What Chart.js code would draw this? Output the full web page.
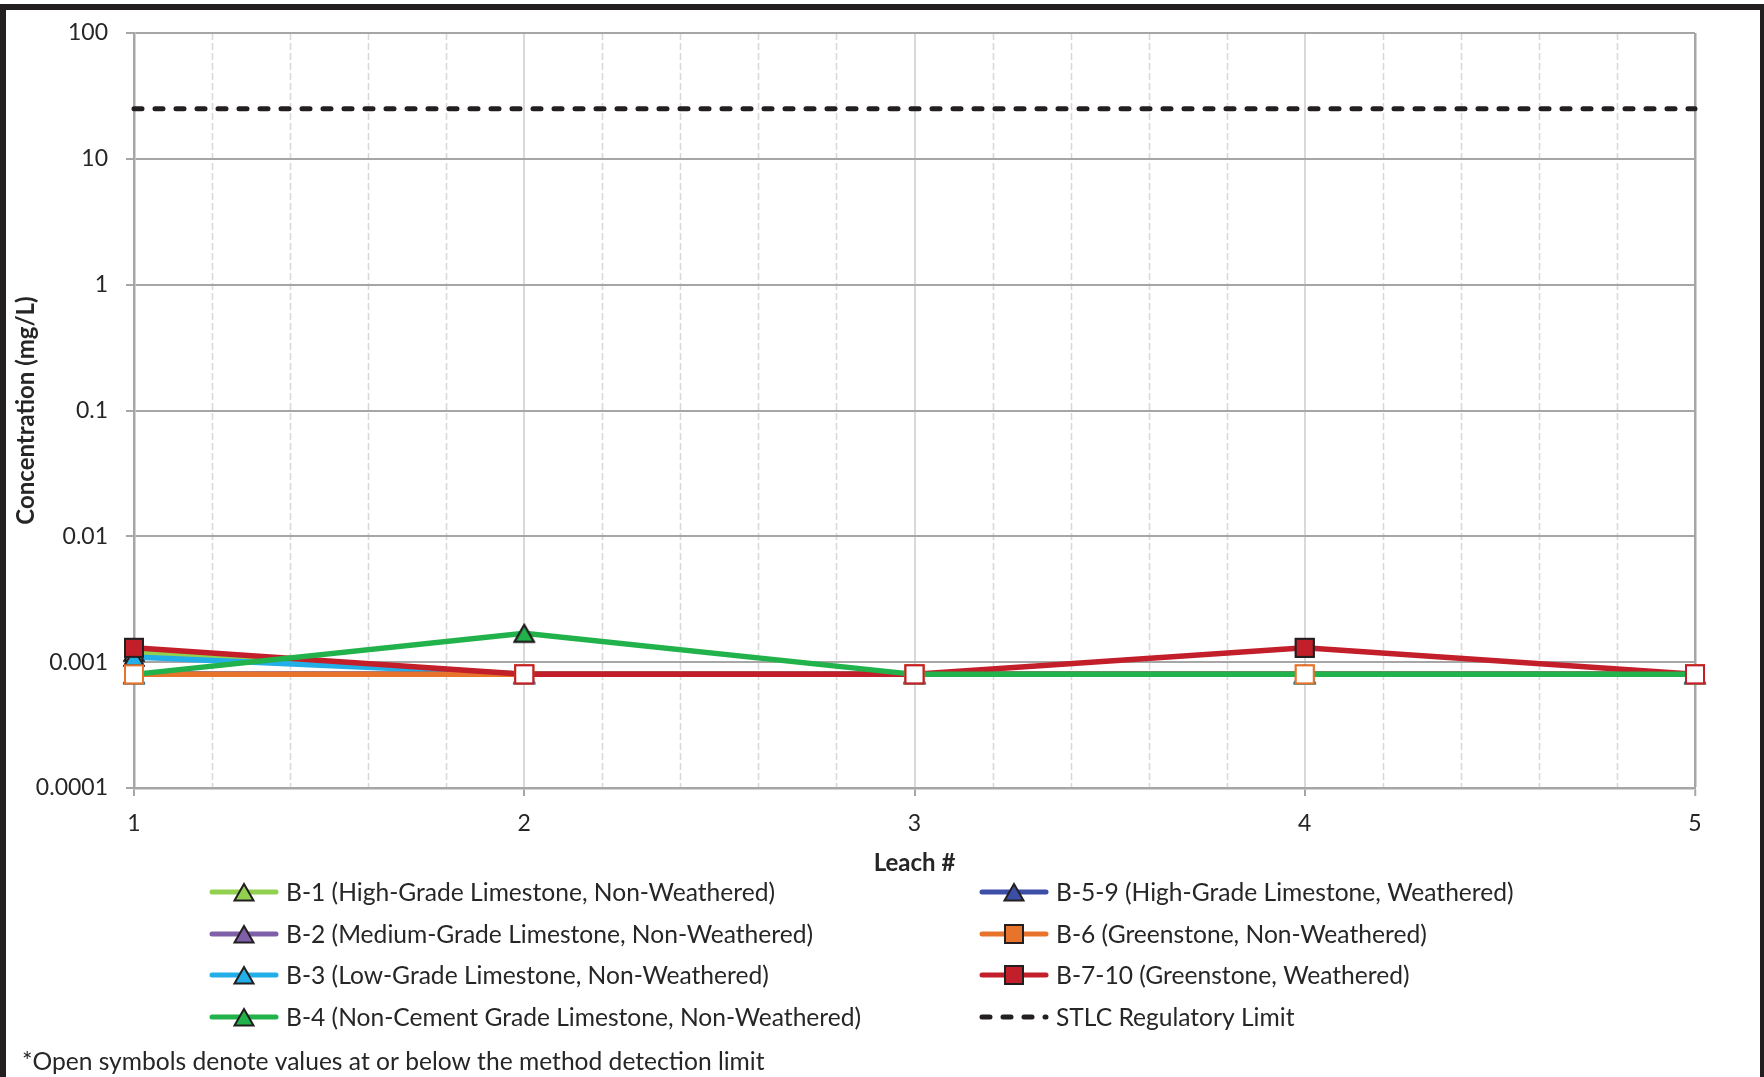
<!DOCTYPE html>
<html>
<head>
<meta charset="utf-8">
<title>Leach concentrations</title>
<script src="https://cdn.jsdelivr.net/npm/chart.js@4.4.1/dist/chart.umd.min.js"></script>
<style>
  html, body { margin: 0; padding: 0; background: #fff; }
  #wrap { position: relative; width: 1764px; height: 1077px; overflow: hidden; background: #fff; }
  #c { position: absolute; left: 0; top: 0; }
  #frame {
    position: absolute; left: 0; top: 4px; width: 1764px; height: 1073px; box-sizing: border-box;
    border-top: 6px solid #231f20; border-left: 6px solid #231f20; border-right: 4px solid #231f20;
    pointer-events: none;
  }
</style>
</head>
<body>
<div id="wrap">
  <canvas id="c" width="1764" height="1077"></canvas>
  <div id="frame"></div>
</div>
<script>
// Leach numbers (x categories)
const leach = ['1', '2', '3', '4', '5'];

// Concentrations in mg/L per sample
const b1   = [0.0012, 0.0008, 0.0008, 0.0008, 0.0008];
const b2   = [0.0008, 0.0008, 0.0008, 0.0008, 0.0008];
const b3   = [0.0011, 0.0008, 0.0008, 0.0008, 0.0008];
const b4   = [0.0008, 0.0017, 0.0008, 0.0008, 0.0008];
const b59  = [0.0008, 0.0008, 0.0008, 0.0008, 0.0008];
const b6   = [0.0008, 0.0008, 0.0008, 0.0008, 0.0008];
const b710 = [0.0013, 0.0008, 0.0008, 0.0013, 0.0008];
const stlc = [25, 25, 25, 25, 25];

// Method detection limit: values at or below it get open symbols
const mdl = 0.0008;

// Log axis ticks
const yTicks = [0.0001, 0.001, 0.01, 0.1, 1, 10, 100];
const yTickLabels = ['0.0001', '0.001', '0.01', '0.1', '1', '10', '100'];

const FONT = 'Lato';
const TEXT = '#262626';
const OUTLINE = '#231f20';

// Pre-rendered marker sprites (filled and open variants)
function makeMarker(shape, fill, stroke) {
  const c = document.createElement('canvas');
  c.width = 24; c.height = 24;
  const g = c.getContext('2d');
  g.lineWidth = 2;
  g.fillStyle = fill;
  g.strokeStyle = stroke;
  g.beginPath();
  if (shape === 'tri') {
    g.moveTo(12, 4); g.lineTo(21.5, 20.5); g.lineTo(2.5, 20.5); g.closePath();
  } else {
    g.rect(3, 3, 18, 18);
  }
  g.fill(); g.stroke();
  return c;
}

function series(label, values, color, shape, order) {
  const filled = makeMarker(shape, color, OUTLINE);
  const open = makeMarker(shape, '#ffffff', color);
  return {
    label, data: values, order,
    borderColor: color, backgroundColor: color,
    borderWidth: 5.5, tension: 0, clip: false,
    pointRadius: 10, pointHoverRadius: 10,
    pointStyle: (ctx) => (ctx.raw <= mdl ? open : filled),
    legendMarker: filled,
    markersOnTop: true
  };
}

const datasets = [
  series('B-1 (High-Grade Limestone, Non-Weathered)', b1, '#92d050', 'tri', 7),
  series('B-2 (Medium-Grade Limestone, Non-Weathered)', b2, '#7f60a8', 'tri', 6),
  series('B-3 (Low-Grade Limestone, Non-Weathered)', b3, '#22aee6', 'tri', 5),
  series('B-4 (Non-Cement Grade Limestone, Non-Weathered)', b4, '#21b24b', 'tri', 1),
  series('B-5-9 (High-Grade Limestone, Weathered)', b59, '#3c4ea5', 'tri', 4),
  series('B-6 (Greenstone, Non-Weathered)', b6, '#e8732a', 'rect', 3),
  series('B-7-10 (Greenstone, Weathered)', b710, '#c21f2a', 'rect', 2),
  {
    label: 'STLC Regulatory Limit', data: stlc, order: 0,
    borderColor: OUTLINE, borderWidth: 5, borderDash: [8, 13], borderCapStyle: 'round',
    pointRadius: 0, clip: false
  }
];

// Dashed minor vertical gridlines at fifths of each leach interval
const minorGrid = {
  id: 'minorGrid',
  beforeDraw(chart) {
    const { ctx, chartArea: a, scales: { x } } = chart;
    ctx.save();
    ctx.strokeStyle = '#d9d9d9';
    ctx.lineWidth = 1.6;
    ctx.setLineDash([7, 3]);
    for (let i = 0; i < leach.length - 1; i++) {
      for (let k = 1; k < 5; k++) {
        const px = Math.round(x.getPixelForValue(i + k / 5)) + 0.5;
        ctx.beginPath(); ctx.moveTo(px, a.top); ctx.lineTo(px, a.bottom); ctx.stroke();
      }
    }
    ctx.restore();
  }
};

// Markers are painted above every line, series by series
const markersOnTop = {
  id: 'markersOnTop',
  afterDatasetsDraw(chart) {
    const ctx = chart.ctx;
    chart.data.datasets.forEach((ds, i) => {
      if (!ds.markersOnTop) return;
      chart.getDatasetMeta(i).data.forEach(p => p.draw(ctx, chart.chartArea));
    });
  }
};

// Two-column legend plus footnote under the x axis
const sideLegend = {
  id: 'sideLegend',
  afterDraw(chart) {
    const ctx = chart.ctx;
    const ds = chart.data.datasets;
    const cols = [[0, 1, 2, 3], [4, 5, 6, 7]];
    const colX = [209, 979];
    const rowY = [892, 934, 975, 1017];
    ctx.save();
    ctx.font = `24.6px ${FONT}`;
    ctx.textBaseline = 'middle';
    ctx.textAlign = 'left';
    cols.forEach((col, c) => {
      col.forEach((di, r) => {
        const d = ds[di];
        const x0 = colX[c], y = rowY[r];
        ctx.save();
        ctx.strokeStyle = d.borderColor;
        ctx.lineWidth = 5;
        ctx.lineCap = 'round';
        if (d.borderDash) ctx.setLineDash(d.borderDash);
        ctx.beginPath(); ctx.moveTo(x0 + 3, y); ctx.lineTo(x0 + 67, y); ctx.stroke();
        ctx.restore();
        if (d.legendMarker) ctx.drawImage(d.legendMarker, x0 + 35 - 12, y - 12);
        ctx.fillStyle = TEXT;
        ctx.fillText(d.label, x0 + 77, y + 1);
      });
    });
    ctx.fillText('*Open symbols denote values at or below the method detection limit', 22, 1062);
    ctx.restore();
  }
};

Chart.defaults.font.family = FONT;
Chart.defaults.color = TEXT;

new Chart(document.getElementById('c'), {
  type: 'line',
  data: { labels: leach, datasets },
  plugins: [minorGrid, markersOnTop, sideLegend],
  options: {
    responsive: false,
    animation: false,
    events: [],
    layout: { padding: { left: 0, top: 33, right: 69, bottom: 199 } },
    plugins: { legend: { display: false }, tooltip: { enabled: false } },
    scales: {
      x: {
        type: 'category',
        offset: false,
        afterFit: (s) => { s.height = 90; },
        grid: {
          color: (c) => (c.index === leach.length - 1 ? '#a6a6a6' : '#d9d9d9'),
          lineWidth: (c) => (c.index === leach.length - 1 ? 2.5 : 2),
          tickColor: '#a6a6a6', tickLength: 8, tickWidth: 2
        },
        border: { color: '#a6a6a6', width: 2.5 },
        ticks: { font: { size: 23 }, color: TEXT, padding: 14, maxRotation: 0 },
        title: {
          display: true, text: 'Leach #', color: TEXT,
          font: { size: 24, weight: 'bold' }, padding: { top: 0, bottom: 0 }
        }
      },
      y: {
        type: 'logarithmic',
        min: 0.0001, max: 100,
        afterFit: (s) => { s.width = 134; },
        afterBuildTicks: (s) => { s.ticks = yTicks.map(v => ({ value: v })); },
        grid: { color: '#a6a6a6', lineWidth: 2, tickLength: 8 },
        border: { color: '#a6a6a6', width: 2.5 },
        ticks: {
          font: { size: 23 }, color: TEXT, padding: 18,
          callback: (v) => yTickLabels[yTicks.indexOf(v)]
        },
        title: {
          display: true, text: 'Concentration (mg/L)', color: TEXT,
          font: { size: 24, weight: 'bold' }, padding: { top: 12, bottom: 0 }
        }
      }
    }
  }
});
</script>
</body>
</html>
